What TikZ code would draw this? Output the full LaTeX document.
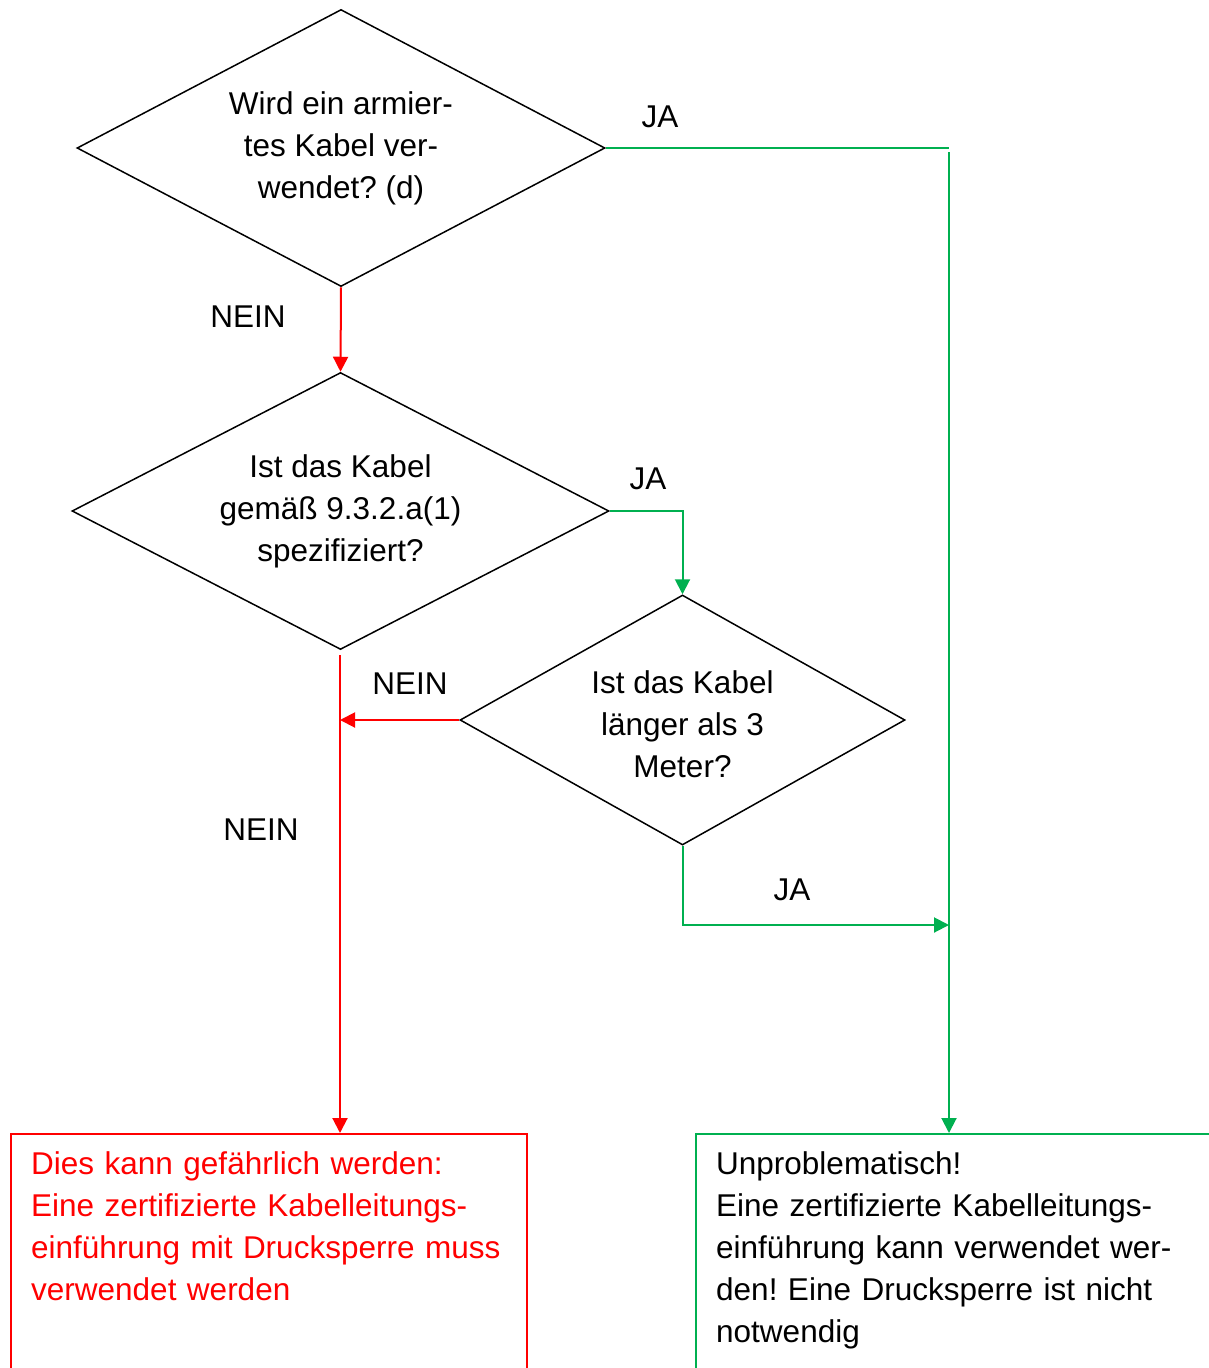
\documentclass[tikz,border=0pt]{standalone}
\usepackage{fontspec}
\setmainfont{Liberation Sans}
\usetikzlibrary{shapes.geometric,arrows.meta,calc}
\definecolor{okgreen}{HTML}{00B050}
\definecolor{badred}{HTML}{FF0000}
\frenchspacing
\begin{document}
\begin{tikzpicture}[x=1pt,y=-1pt,
  txt/.style={font=\fontsize{31.5}{42}\selectfont},
  decision/.style={shape=diamond, draw=black, line width=1.5pt, inner sep=0pt, align=center, txt},
  lbl/.style={inner sep=0pt, txt},
  yes/.style={draw=okgreen, line width=2pt},
  no/.style={draw=badred, line width=2pt},
  tip/.style={-{Triangle[length=15pt,width=15pt]}},
  outbox/.style={line width=2pt, anchor=north west, inner sep=0pt}
]
\useasboundingbox (0,0) rectangle (1208,1368);

% decisions
\node[decision, minimum width=528pt, minimum height=277pt, aspect=1.9] (d1) at (341,148)
  {Wird ein armier-\\tes Kabel ver-\\wendet? (d)};
\node[decision, minimum width=537pt, minimum height=277pt, aspect=1.94] (d2) at (340.5,511)
  {Ist das Kabel\\gemäß 9.3.2.a(1)\\spezifiziert?};
\node[decision, minimum width=445pt, minimum height=250pt, aspect=1.78] (d3) at (682.5,720) {};
\node[lbl, align=center] (d3t) at (682.5,724) {Ist das Kabel\\länger als 3\\Meter?};

% result boxes
\node[outbox, draw=badred, minimum width=516pt, minimum height=300pt] (bad) at (10,1133) {};
\node[outbox, draw=okgreen, minimum width=560pt, minimum height=300pt] (good) at (695,1133) {};
\node[lbl, anchor=north west, text width=480pt, align=left, text=badred] (badtxt) at (31,1151)
  {Dies kann gefährlich werden:\\Eine zertifizierte Kabelleitungs-\\einführung mit Drucksperre muss\\verwendet werden};
\node[lbl, anchor=north west, text width=480pt, align=left] (goodtxt) at (716,1151)
  {Unproblematisch!\\Eine zertifizierte Kabelleitungs-\\einführung kann verwendet wer-\\den! Eine Drucksperre ist nicht\\notwendig};

% helper coordinates
\coordinate (jx) at (949,148);
\coordinate (jxd) at (949,152);
\coordinate (rtop) at (340,655);
\coordinate (redv) at (d3.west -| rtop);
\coordinate (grn) at (949,925);

% connectors
\draw[yes] (d1.east) -- (jx);
\draw[yes, tip] (jxd) -- (jxd |- good.north);
\draw[no, tip] (d1.south) -- (d2.north);
\draw[yes, tip] (d2.east) -| (d3.north);
\draw[no, tip] (d3.west) -- (redv);
\draw[no, tip] (rtop) -- (rtop |- bad.north);
\draw[yes, tip] (d3.south) |- (grn);

% labels
\node[lbl] (l1) at (660,117) {JA};
\node[lbl] (l2) at (248,317) {NEIN};
\node[lbl] (l3) at (648,479) {JA};
\node[lbl] (l4) at (410,684) {NEIN};
\node[lbl] (l5) at (261,830) {NEIN};
\node[lbl] (l6) at (792,890) {JA};
\end{tikzpicture}
\end{document}
